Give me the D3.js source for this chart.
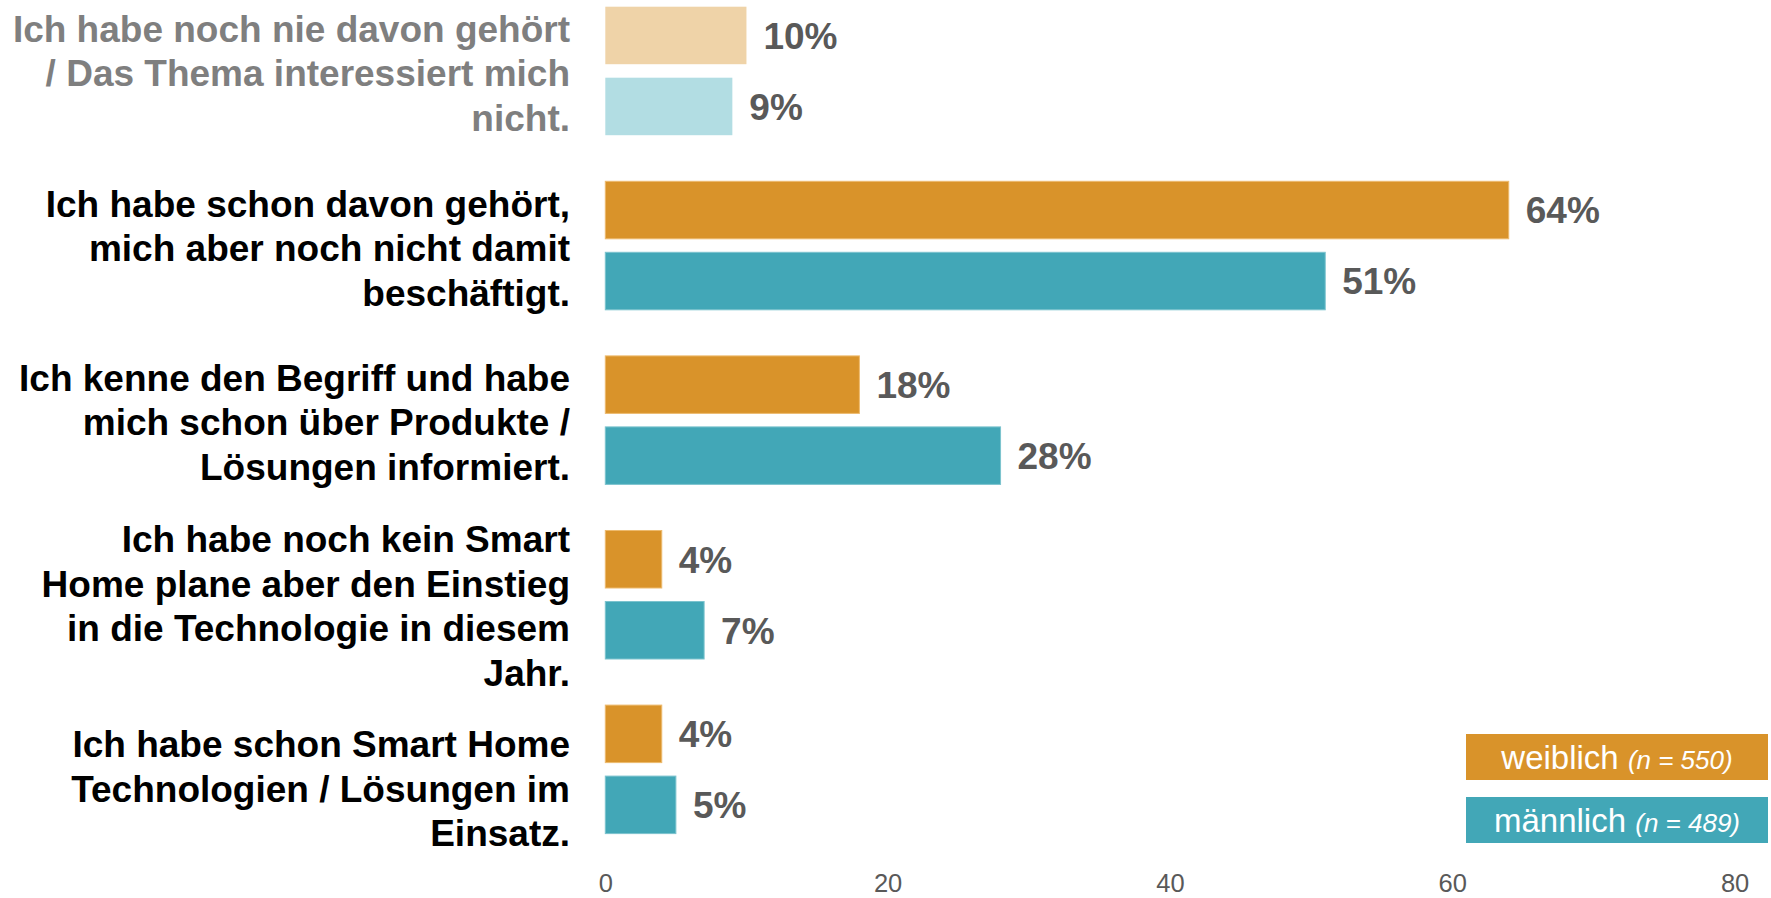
<!DOCTYPE html>
<html lang="de">
<head>
<meta charset="utf-8">
<script src="https://cdn.jsdelivr.net/npm/d3@7"></script>
<style>
  html, body { margin: 0; padding: 0; background: #ffffff; }
  svg { display: block; font-family: "Liberation Sans", Arial, Helvetica, sans-serif; }
</style>
</head>
<body>
<svg id="chart" width="1771" height="898"></svg>
<script>
// Antworten (Zeilen des Diagramms), jeweils als umbrochene Zeilen
const categories = [
  ["Ich habe noch nie davon gehört", "/ Das Thema interessiert mich", "nicht."],
  ["Ich habe schon davon gehört,", "mich aber noch nicht damit", "beschäftigt."],
  ["Ich kenne den Begriff und habe", "mich schon über Produkte /", "Lösungen informiert."],
  ["Ich habe noch kein Smart", "Home plane aber den Einstieg", "in die Technologie in diesem", "Jahr."],
  ["Ich habe schon Smart Home", "Technologien / Lösungen im", "Einsatz."]
];

// Anteile in Prozent
const weiblich = [10, 64, 18, 4, 4];
const maennlich = [9, 51, 28, 7, 5];

const seriesNames = ["weiblich", "männlich"];
const seriesN = [550, 489];
const xTicks = [0, 20, 40, 60, 80];

// Farben
const colorStrong = { weiblich: "#D9932A", "männlich": "#42A7B7" };
const colorMuted  = { weiblich: "#EFD3A8", "männlich": "#B2DDE3" };
const strokeStrong = { weiblich: "#EDBA6E", "männlich": "#7CC3CE" };

const svg = d3.select("#chart");

const xLeft = 605.3, xRight = 1734.6;
const x = d3.scaleLinear().domain([0, 80]).range([xLeft, xRight]);

const y0 = d3.scaleBand()
  .domain(d3.range(categories.length))
  .range([6.7, 833.6])
  .paddingInner(0.264)
  .paddingOuter(0);

const y1 = d3.scaleBand()
  .domain(seriesNames)
  .range([0, y0.bandwidth()])
  .paddingInner(0.19)
  .paddingOuter(0);

const rows = categories.map((lines, i) => ({
  index: i,
  lines,
  values: [
    { series: "weiblich", value: weiblich[i] },
    { series: "männlich", value: maennlich[i] }
  ]
}));

// Balken und Werte
const groups = svg.append("g").selectAll("g.row")
  .data(rows)
  .join("g")
  .attr("class", "row")
  .attr("transform", d => `translate(0,${y0(d.index)})`);

groups.selectAll("rect")
  .data(d => d.values.map(v => ({ ...v, muted: d.index === 0 })))
  .join("rect")
  .attr("x", x(0))
  .attr("y", d => y1(d.series))
  .attr("width", d => x(d.value) - x(0))
  .attr("height", y1.bandwidth())
  .attr("fill", d => d.muted ? colorMuted[d.series] : colorStrong[d.series])
  .attr("stroke", d => d.muted ? "none" : strokeStrong[d.series])
  .attr("stroke-width", 1);

groups.selectAll("text.value")
  .data(d => d.values)
  .join("text")
  .attr("class", "value")
  .attr("x", d => x(d.value) + 17)
  .attr("y", d => y1(d.series) + y1.bandwidth() / 2)
  .attr("dy", "0.36em")
  .attr("font-size", 37)
  .attr("font-weight", "bold")
  .attr("fill", "#595959")
  .text(d => `${d.value}%`);

// Beschriftung der Antworten
const lineHeight = 44.6;
const labelShift = [2, 2.5, 2, 11, 19];
const labels = svg.append("g").selectAll("text.cat")
  .data(rows)
  .join("text")
  .attr("class", "cat")
  .attr("text-anchor", "end")
  .attr("font-size", 37)
  .attr("font-weight", "bold")
  .attr("fill", d => d.index === 0 ? "#7F7F7F" : "#000000");

labels.selectAll("tspan")
  .data(d => d.lines.map((t, k) => ({
    t, k, n: d.lines.length,
    cy: y0(d.index) + y0.bandwidth() / 2 + labelShift[d.index]
  })))
  .join("tspan")
  .attr("x", 570)
  .attr("y", d => d.cy + (d.k - (d.n - 1) / 2) * lineHeight)
  .attr("dy", "0.36em")
  .text(d => d.t);

// x-Achse
const axis = svg.append("g")
  .attr("transform", "translate(0,866)")
  .call(d3.axisBottom(x).tickValues(xTicks).tickSize(0).tickPadding(8));
axis.select(".domain").remove();
axis.selectAll("text")
  .attr("font-family", "\"Liberation Sans\", Arial, sans-serif")
  .attr("font-size", 25.5)
  .attr("fill", "#595959");

// Legende
const legendX = 1466, legendW = 302, legendH = 46;
const legendTop = [734, 797];
const legend = svg.append("g").selectAll("g.legend")
  .data(seriesNames.map((s, i) => ({ s, n: seriesN[i], top: legendTop[i] })))
  .join("g")
  .attr("class", "legend");

legend.append("rect")
  .attr("x", legendX)
  .attr("y", d => d.top)
  .attr("width", legendW)
  .attr("height", legendH)
  .attr("fill", d => colorStrong[d.s]);

const legendText = legend.append("text")
  .attr("x", legendX + legendW / 2)
  .attr("y", d => d.top + 34.5)
  .attr("text-anchor", "middle")
  .attr("fill", "#ffffff");

legendText.append("tspan")
  .attr("font-size", 33)
  .text(d => d.s + " ");
legendText.append("tspan")
  .attr("font-size", 26)
  .attr("font-style", "italic")
  .text(d => `(n = ${d.n})`);
</script>
</body>
</html>
